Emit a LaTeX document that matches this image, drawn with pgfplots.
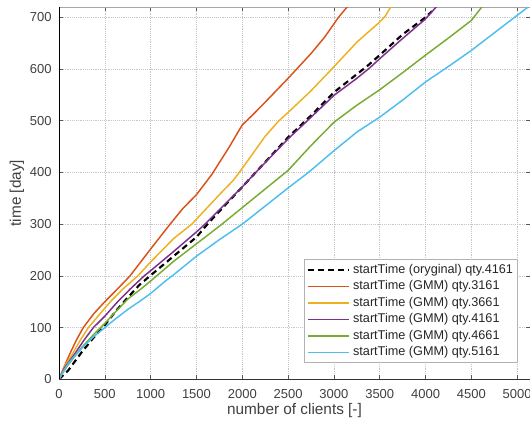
\documentclass[border=0pt]{standalone}
\usepackage{fontspec}
\setmainfont{Liberation Sans}
\usepackage{pgfplots}
\pgfplotsset{compat=1.18}
\definecolor{mOrange}{rgb}{0.850,0.325,0.098}
\definecolor{mYellow}{rgb}{0.929,0.694,0.125}
\definecolor{mPurple}{rgb}{0.494,0.184,0.556}
\definecolor{mGreen}{rgb}{0.466,0.674,0.188}
\definecolor{mCyan}{rgb}{0.301,0.745,0.933}
\definecolor{txt}{HTML}{404040}
\begin{document}
\begin{tikzpicture}
\begin{axis}[
  name=ax,
  scale only axis,
  width=353pt, height=279pt,
  xmin=0, xmax=5140, ymin=0, ymax=720,
  xtick={0,500,...,5000}, ytick={0,100,...,700},
  scaled x ticks=false, scaled y ticks=false,
  /pgf/number format/1000 sep={},
  /pgf/number format/assume math mode=true,
  ticklabel style={text=txt, font=\fontsize{9.75}{11}\selectfont},
  xticklabel style={yshift=-4pt},
  yticklabel style={xshift=-2pt},
  grid=major,
  grid style={densely dotted, gray!45, line width=0.5pt},
  tick align=inside,
  major tick length=3pt,
  tick style={gray!70!black, line width=0.5pt},
  axis line style={gray!70, line width=0.5pt},
  every axis x label/.style={at={(axis description cs:0.5,-0.0833)}, anchor=center},
  every axis y label/.style={at={(axis description cs:-0.0892,0.5)}, rotate=90, anchor=center},
  label style={text=txt, font=\fontsize{11.5}{13}\selectfont},
  xlabel={number of clients [-]},
  ylabel={time [day]},
  legend cell align=left,
  legend style={at={(0.9745,0.3226)}, anchor=north east, draw=gray!60, line width=0.5pt,
    font=\fontsize{9.5}{11}\selectfont, text=black!85, inner sep=1.5pt},
  legend image code/.code={\draw[#1] plot coordinates {(0cm,0cm) (1.1cm,0cm)};},
  line join=round,
]
\addplot[black, line width=1.6pt, dash pattern=on 4.5pt off 3pt] coordinates {
(0,0) (100,17) (175,35) (250,53) (375,80) (500,105) (625,133) (750,158) (875,182)
(1000,201) (1250,238) (1500,275) (1620,300) (1750,325) (2000,372) (2250,420) (2500,468)
(2750,510) (3000,555) (3250,590) (3359,605) (3500,627) (3750,667) (4000,700) (4070,712)};
\addlegendentry{startTime (oryginal) qty.4161}
\addplot[mOrange, line width=1.1pt] coordinates {
(0,0) (50,22) (120,50) (190,76) (265,100) (380,127) (500,150) (640,175) (775,200)
(1000,252) (1212,300) (1350,330) (1500,357) (1667,396) (1850,447) (2000,492) (2100,509) (2250,536) (2500,582)
(2750,630) (2900,662) (3050,700) (3144,720) (3161,724)};
\addlegendentry{startTime (GMM) qty.3161}
\addplot[mYellow, line width=1.1pt] coordinates {
(0,0) (60,25) (150,50) (230,75) (320,100) (440,125) (560,150) (700,175) (860,200)
(1000,227) (1250,272) (1449,300) (1750,357) (1903,385) (2000,408) (2250,470) (2400,500) (2500,516) (2750,558)
(2977,600) (3250,652) (3500,691) (3559,702) (3620,720) (3661,727)};
\addlegendentry{startTime (GMM) qty.3661}
\addplot[mPurple, line width=1.1pt] coordinates {
(0,0) (60,22) (175,50) (270,75) (375,100) (500,122) (640,150) (780,175) (930,200)
(1000,210) (1250,247) (1500,285) (1594,300) (1750,328) (2000,372) (2130,397) (2500,465)
(2722,502) (3000,549) (3250,582) (3395,603) (3500,620) (3723,655) (4000,697) (4116,720) (4161,728)};
\addlegendentry{startTime (GMM) qty.4161}
\addplot[mGreen, line width=1.1pt] coordinates {
(0,0) (50,15) (100,28) (175,45) (250,62) (375,86) (500,108) (625,132) (750,155) (875,172)
(1000,190) (1250,228) (1500,262) (1750,296) (2000,332) (2250,368) (2500,404) (2750,452)
(3000,497) (3250,530) (3500,560) (3750,593) (4000,627) (4250,660) (4500,694) (4614,720) (4661,729)};
\addlegendentry{startTime (GMM) qty.4661}
\addplot[mCyan, line width=1.1pt] coordinates {
(0,0) (50,16) (100,30) (175,46) (250,60) (375,82) (500,100) (625,118) (750,135) (875,150)
(1000,166) (1175,192) (1250,202) (1500,238) (1750,270) (2000,300) (2250,335) (2500,370)
(2722,400) (3000,442) (3250,478) (3500,507) (3750,540) (4000,575) (4250,605) (4500,636)
(4750,670) (5000,704) (5120,720) (5161,726)};
\addlegendentry{startTime (GMM) qty.5161}
\draw[black, line width=1.3pt] (rel axis cs:0,1) -- (rel axis cs:0,0);
\draw[black!80, line width=1pt] (rel axis cs:0,0) -- (rel axis cs:1,0);
\end{axis}
\pgfresetboundingbox
\path ([shift={(-44.25pt,-36.75pt)}]ax.south west) rectangle ([shift={(0pt,5.25pt)}]ax.north east);
\end{tikzpicture}
\end{document}
